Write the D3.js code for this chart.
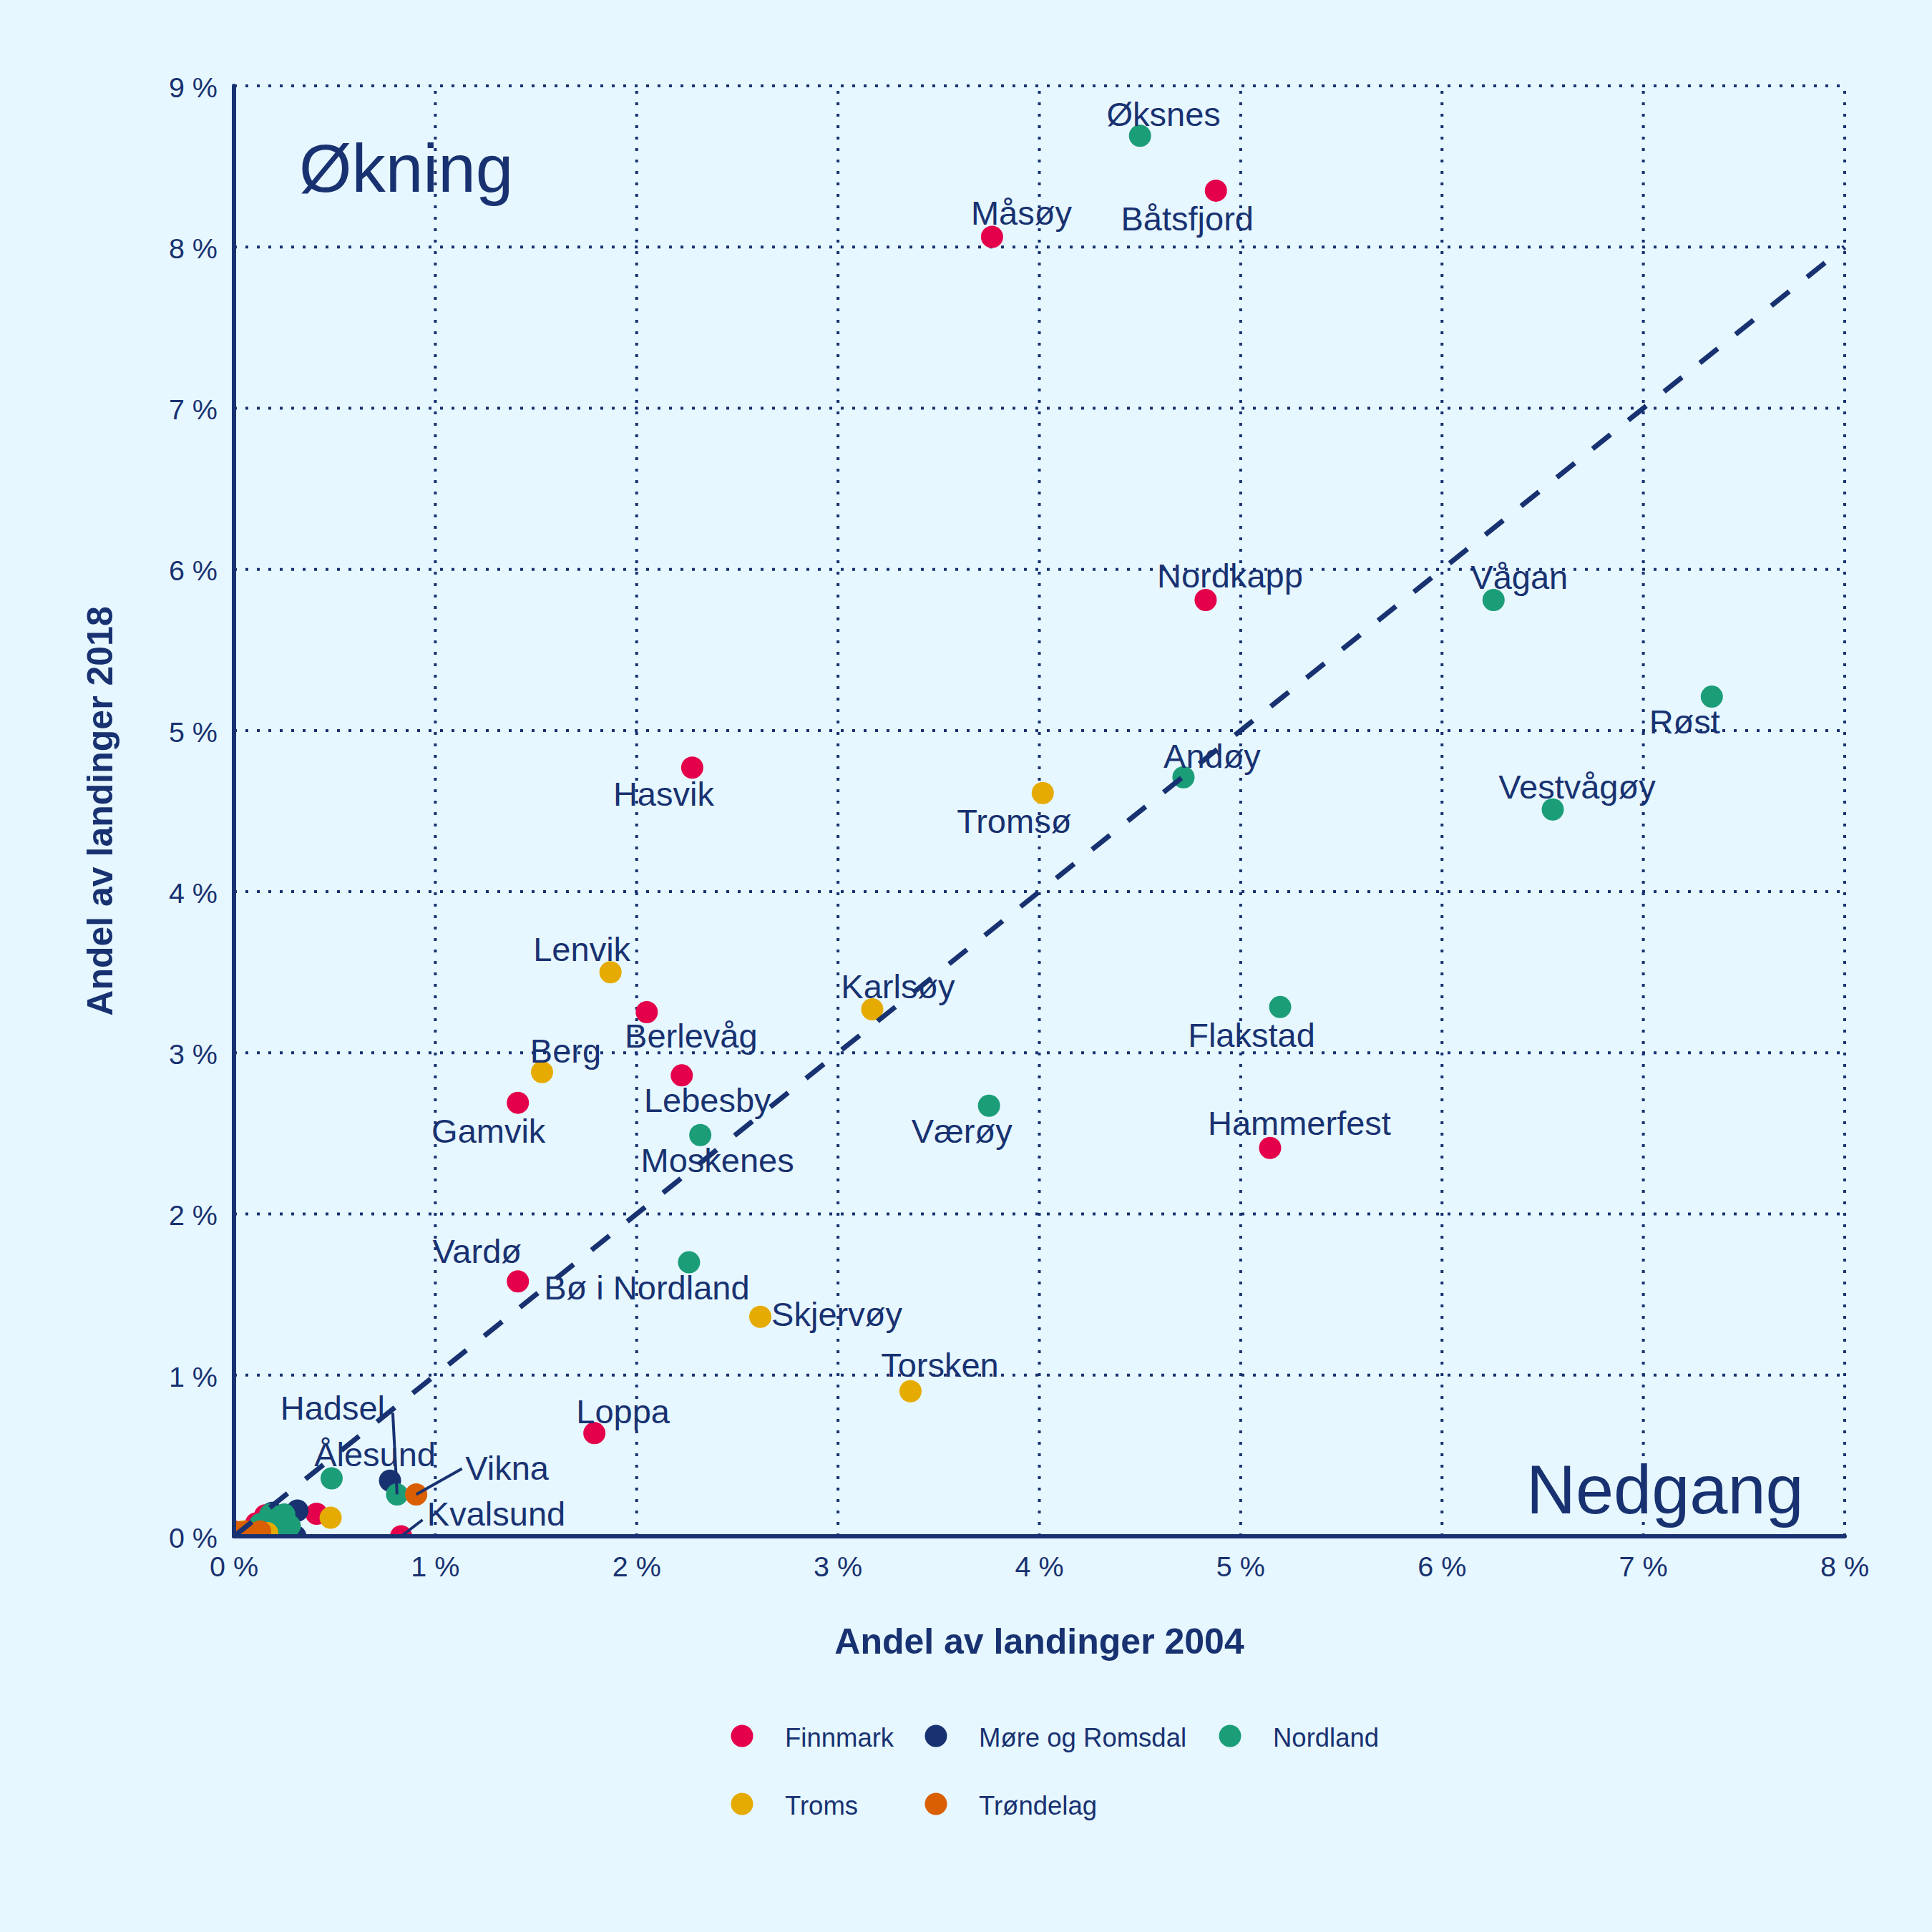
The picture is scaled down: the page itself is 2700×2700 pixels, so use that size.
<!DOCTYPE html>
<html>
<head>
<meta charset="utf-8">
<script src="https://cdn.jsdelivr.net/npm/d3@7"></script>
<style>
	html, body { margin: 0; padding: 0; background: #e7f7ff; }
	svg { display: block; }
	text { font-family: "Liberation Sans", Arial, sans-serif; fill: #183271; }
</style>
</head>
<body>
<div id="my_dataviz"></div>
<script>
// share of landings per municipality. "" = no label in the original
var finnmarkNames = ["Båtsfjord", "Måsøy", "Nordkapp", "Hasvik", "Berlevåg", "Lebesby", "Gamvik", "Hammerfest", "Vardø", "Loppa", "Kvalsund", "", "", "", ""];
var finnmark2004 = [4.877, 3.765, 4.826, 2.276, 2.05, 2.224, 1.41, 5.146, 1.41, 1.79, 0.83, 0.41, 0.155, 0.11, 0.0];
var finnmark2018 = [8.35, 8.063, 5.81, 4.77, 3.252, 2.86, 2.69, 2.41, 1.582, 0.64, 0.0, 0.14, 0.13, 0.08, 0.03];

var moreNames = ["Ålesund", "", "", ""];
var more2004 = [0.775, 0.315, 0.305, 0.19];
var more2018 = [0.345, 0.16, 0.0, 0.145];

var nordlandNames = ["Øksnes", "Vågan", "Røst", "Andøy", "Vestvågøy", "Flakstad", "Værøy", "Moskenes", "Bø i Nordland", "", "Hadsel", "", "", "", "", ""];
var nordland2004 = [4.50, 6.256, 7.34, 4.716, 6.55, 5.196, 3.75, 2.316, 2.26, 0.485, 0.81, 0.277, 0.25, 0.18, 0.13, 0.23];
var nordland2018 = [8.69, 5.81, 5.21, 4.71, 4.51, 3.284, 2.672, 2.49, 1.70, 0.36, 0.26, 0.065, 0.135, 0.135, 0.075, 0.06];

var tromsNames = ["Tromsø", "Lenvik", "Karlsøy", "Berg", "Skjervøy", "Torsken", "", "", ""];
var troms2004 = [4.017, 1.87, 3.17, 1.53, 2.614, 3.36, 0.48, 0.165, 0.045];
var troms2018 = [4.612, 3.50, 3.27, 2.88, 1.362, 0.90, 0.115, 0.02, 0.03];

var trondelagNames = ["Vikna", "", "", ""];
var trondelag2004 = [0.905, 0.13, 0.064, 0.02];
var trondelag2018 = [0.26, 0.03, 0.03, 0.025];

var countyNames = ["Finnmark", "Møre og Romsdal", "Nordland", "Troms", "Trøndelag"];
var countyColors = ["#e4004a", "#183271", "#1b9e77", "#e6ab02", "#d95f02"];

var xTicks = [0, 1, 2, 3, 4, 5, 6, 7, 8];
var yTicks = [0, 1, 2, 3, 4, 5, 6, 7, 8, 9];

// where each ggrepel label ended up, relative to its point (px)
var labelOffsets = {
	"Øksnes": [33, -29], "Båtsfjord": [-40, 40], "Måsøy": [41, -33], "Nordkapp": [34, -33],
	"Vågan": [36, -31], "Røst": [-38, 36], "Andøy": [40, -29], "Vestvågøy": [34, -31],
	"Hasvik": [-40, 38], "Tromsø": [-40, 40], "Lenvik": [-40, -31], "Karlsøy": [36, -31],
	"Berlevåg": [62, 34], "Flakstad": [-40, 40], "Berg": [33, -29], "Gamvik": [-41, 40],
	"Lebesby": [36, 36], "Værøy": [-38, 36], "Hammerfest": [41, -34], "Moskenes": [24, 36],
	"Vardø": [-57, -41], "Bø i Nordland": [-59, 36], "Skjervøy": [107, -3], "Torsken": [41, -36],
	"Loppa": [40, -29], "Hadsel": [-90, -120], "Ålesund": [-21, -36], "Vikna": [127, -36],
	"Kvalsund": [133, -31]
};
var leaderOffsets = { "Hadsel": [-6, -114], "Vikna": [64, -36], "Kvalsund": [30, -23] };

var navy = "#183271";
var margin = {top: 120, right: 122, bottom: 553, left: 327};
var width = 2700 - margin.left - margin.right;
var height = 2700 - margin.top - margin.bottom;

var svg = d3.select("#my_dataviz")
	.append("svg")
		.attr("width", 2700)
		.attr("height", 2700);
svg.append("rect").attr("width", 2700).attr("height", 2700).attr("fill", "#e7f7ff");

var g = svg.append("g")
	.attr("transform", "translate(" + margin.left + "," + margin.top + ")");

var x = d3.scaleLinear().domain([0, 8]).range([0, width]);
var y = d3.scaleLinear().domain([0, 9]).range([height, 0]);

g.append("clipPath").attr("id", "panel")
	.append("rect").attr("width", width).attr("height", height);

// dotted grid, drawn with the axes
g.append("g")
	.attr("transform", "translate(0," + height + ")")
	.call(d3.axisBottom(x).tickValues(xTicks).tickSize(-height).tickFormat("").offset(0))
	.call(function(a) { a.select(".domain").remove(); })
	.selectAll("line")
		.attr("stroke", navy).attr("stroke-width", 4).attr("stroke-dasharray", "4 12");
g.append("g")
	.call(d3.axisLeft(y).tickValues(yTicks).tickSize(-width).tickFormat("").offset(0))
	.call(function(a) { a.select(".domain").remove(); })
	.selectAll("line")
		.attr("stroke", navy).attr("stroke-width", 4).attr("stroke-dasharray", "4 12");

// build one table from the county arrays, in drawing order
var points = [];
function addCounty(names, xs, ys, county) {
	names.forEach(function(name, i) {
		points.push({name: name, x: xs[i], y: ys[i], county: county});
	});
}
addCounty(finnmarkNames, finnmark2004, finnmark2018, "Finnmark");
addCounty(moreNames, more2004, more2018, "Møre og Romsdal");
addCounty(nordlandNames, nordland2004, nordland2018, "Nordland");
addCounty(tromsNames, troms2004, troms2018, "Troms");
addCounty(trondelagNames, trondelag2004, trondelag2018, "Trøndelag");

var color = d3.scaleOrdinal().domain(countyNames).range(countyColors);

g.append("g").attr("clip-path", "url(#panel)")
	.selectAll("circle")
	.data(points)
	.enter()
	.append("circle")
		.attr("cx", function(d) { return x(d.x); })
		.attr("cy", function(d) { return y(d.y); })
		.attr("r", 15.5)
		.attr("fill", function(d) { return color(d.county); });

// y = x
g.append("line")
	.attr("x1", x(0)).attr("y1", y(0))
	.attr("x2", x(8)).attr("y2", y(8))
	.attr("stroke", navy)
	.attr("stroke-width", 7)
	.attr("stroke-dasharray", "32 32");

var labelled = points.filter(function(d) { return d.name !== ""; });

g.selectAll(".leader")
	.data(labelled.filter(function(d) { return leaderOffsets[d.name]; }))
	.enter()
	.append("line")
		.attr("class", "leader")
		.attr("x1", function(d) { return x(d.x); })
		.attr("y1", function(d) { return y(d.y); })
		.attr("x2", function(d) { return x(d.x) + leaderOffsets[d.name][0]; })
		.attr("y2", function(d) { return y(d.y) + leaderOffsets[d.name][1]; })
		.attr("stroke", navy)
		.attr("stroke-width", 4);

g.selectAll(".label")
	.data(labelled)
	.enter()
	.append("text")
		.attr("class", "label")
		.attr("x", function(d) { return x(d.x) + labelOffsets[d.name][0]; })
		.attr("y", function(d) { return y(d.y) + labelOffsets[d.name][1]; })
		.attr("dy", "0.33em")
		.attr("text-anchor", "middle")
		.style("font-size", "47px")
		.text(function(d) { return d.name; });

// big corner texts
g.append("text")
	.attr("x", 91).attr("y", 148)
	.style("font-size", "94.5px")
	.text("Økning");
g.append("text")
	.attr("x", 1806).attr("y", 1995)
	.style("font-size", "95.5px")
	.text("Nedgang");

// axes on top
var xAxis = g.append("g")
	.attr("transform", "translate(0," + height + ")")
	.call(d3.axisBottom(x).tickValues(xTicks).tickSize(0).tickPadding(28).offset(0)
		.tickFormat(function(d) { return d + " %"; }));
var yAxis = g.append("g")
	.call(d3.axisLeft(y).tickValues(yTicks).tickSize(0).tickPadding(23).offset(0)
		.tickFormat(function(d) { return d + " %"; }));
yAxis.selectAll("text").attr("dy", "0.40em");
[xAxis, yAxis].forEach(function(a) {
	a.attr("font-family", null).attr("font-size", null);
	a.select(".domain")
		.attr("stroke", navy).attr("stroke-width", 6).attr("stroke-linecap", "round");
	a.selectAll("text").style("font-size", "39.5px");
});

// axis titles
g.append("text")
	.attr("x", width / 2).attr("y", height + 164)
	.attr("text-anchor", "middle")
	.style("font-size", "50px").style("font-weight", "bold")
	.text("Andel av landinger 2004");
g.append("text")
	.attr("transform", "translate(-170," + (height / 2) + ")rotate(-90)")
	.attr("text-anchor", "middle")
	.style("font-size", "50px").style("font-weight", "bold")
	.text("Andel av landinger 2018");

// legend
var legendX = [1037, 1308, 1719];
var legendY = [2426, 2521];
var legend = svg.selectAll(".legend")
	.data(countyNames)
	.enter()
	.append("g")
		.attr("class", "legend")
		.attr("transform", function(d, i) {
			return "translate(" + legendX[i % 3] + "," + legendY[Math.floor(i / 3)] + ")";
		});
legend.append("circle")
	.attr("r", 15.5)
	.attr("fill", function(d) { return color(d); });
legend.append("text")
	.attr("x", 60)
	.attr("dy", "0.40em")
	.style("font-size", "36.5px")
	.text(function(d) { return d; });
</script>
</body>
</html>
